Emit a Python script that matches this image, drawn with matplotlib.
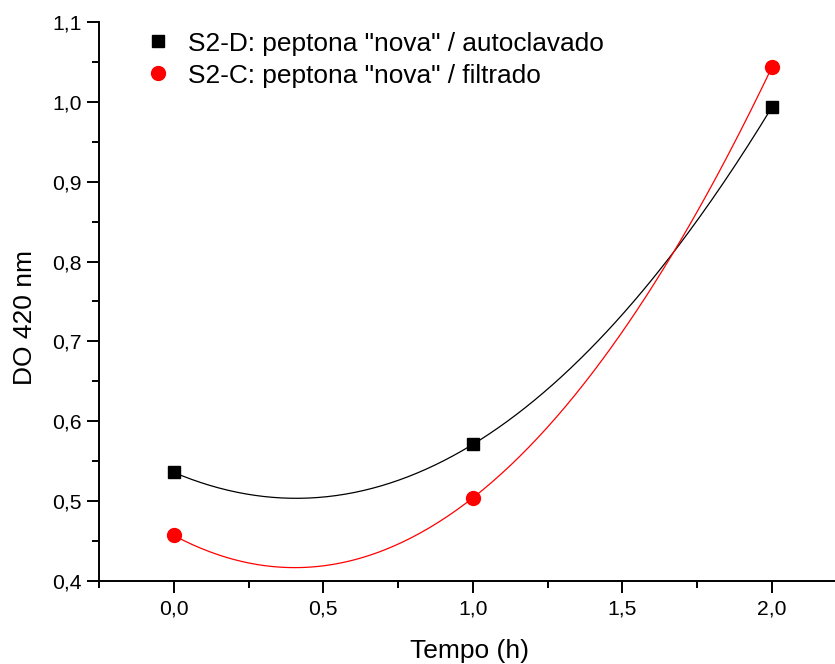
import numpy as np
import matplotlib; matplotlib.use('Agg')
import matplotlib.pyplot as plt
from matplotlib.ticker import MultipleLocator, FuncFormatter

plt.rcParams['font.family'] = ['Liberation Sans', 'DejaVu Sans']

tempo = [0.0, 1.0, 2.0]
do_autoclavado = [0.536, 0.571, 0.993]
do_filtrado = [0.457, 0.504, 1.043]
labels = ['S2-D: peptona "nova" / autoclavado', 'S2-C: peptona "nova" / filtrado']

fig = plt.figure(figsize=(8.35, 6.64), dpi=100)
ax = fig.add_axes([0.1186, 0.125, 0.8814, 0.8419])

# quadratic curve through each series, then the measured points on top
xs = np.linspace(0, 2, 200)
for y, color, marker, ms, lab in [(do_autoclavado, 'black', 's', 8.5, labels[0]),
                                   (do_filtrado, 'red', 'o', 10, labels[1])]:
    coef = np.polyfit(tempo, y, 2)
    ax.plot(xs, np.polyval(coef, xs), color=color, lw=0.9)
    ax.plot(tempo, y, linestyle='none', marker=marker, color=color, ms=ms, label=lab)

ax.set_xlim(-0.25, 2.2115)
ax.set_ylim(0.4, 1.1)
ax.spines['top'].set_visible(False)
ax.spines['right'].set_visible(False)
for s in ['left', 'bottom']:
    ax.spines[s].set_linewidth(1.4)

ax.xaxis.set_major_locator(MultipleLocator(0.5))
ax.xaxis.set_minor_locator(MultipleLocator(0.25))
ax.yaxis.set_major_locator(MultipleLocator(0.1))
ax.yaxis.set_minor_locator(MultipleLocator(0.05))
comma = FuncFormatter(lambda v, p: f'{v:.1f}'.replace('.', ','))
ax.xaxis.set_major_formatter(comma)
ax.yaxis.set_major_formatter(comma)
ax.tick_params(which='major', direction='out', length=8.5, width=1.4, labelsize=15.2)
ax.tick_params(which='minor', direction='out', length=5, width=1.4)
ax.tick_params(axis='x', which='major', pad=4.5)
ax.tick_params(axis='y', which='major', pad=4)

ax.set_xlabel('Tempo (h)', fontsize=19)
ax.xaxis.set_label_coords(0.504, -0.104, transform=ax.transAxes)
ax.set_ylabel('DO 420 nm', fontsize=19, labelpad=10.5)
ax.yaxis.label.set_y(0.4705)

ax.legend(loc='upper left', bbox_to_anchor=(0.03, 1.025), frameon=False,
          fontsize=18.9, handletextpad=0.65, labelspacing=0.3, handlelength=1.0)

fig.savefig('out.png', dpi=100)
